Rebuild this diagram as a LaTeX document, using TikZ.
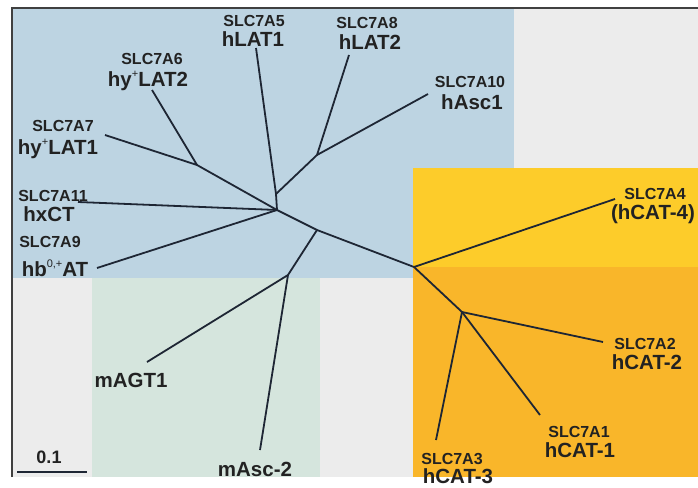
\documentclass[tikz,border=0pt]{standalone}
\usepackage{fontspec}
\setmainfont{Liberation Sans}
\definecolor{panelgrey}{RGB}{236,236,236}
\definecolor{lightblue}{RGB}{189,212,226}
\definecolor{mintgreen}{RGB}{213,229,221}
\definecolor{catyellow}{RGB}{253,204,42}
\definecolor{catorange}{RGB}{249,182,42}
\definecolor{treeline}{RGB}{30,38,52}
\definecolor{labeltext}{RGB}{34,34,34}
\newcommand{\upmark}[1]{\raisebox{0.42em}{\fontsize{11}{11}\selectfont\mdseries #1}}

\begin{document}
\begin{tikzpicture}[x=1pt,y=-1pt,
    branch/.style={line width=1.8pt,draw=treeline,line join=round},
    slc/.style={font=\fontsize{16}{16}\selectfont\bfseries,text=labeltext,inner sep=0pt,anchor=base},
    gene/.style={font=\fontsize{20.5}{20.5}\selectfont\bfseries,text=labeltext,inner sep=0pt,anchor=base}]
\useasboundingbox (0,0) rectangle (698,487);
% coloured panels
\fill[white] (0,0) rectangle (698,487);
\fill[panelgrey] (12,8) rectangle (698,477);
\fill[lightblue] (12,8) rectangle (514,168);
\fill[lightblue] (12,168) rectangle (413,278);
\fill[catyellow] (413,168) rectangle (698,267);
\fill[catorange] (413,267) rectangle (698,477);
\fill[mintgreen] (92,278) rectangle (320,477);
\draw[line width=1.4pt,draw=black!75] (12,477) -- (12,8) -- (698,8);

% inner nodes of the tree
\coordinate (c) at (277,210);
\coordinate (n1) at (276,194);
\coordinate (n2) at (317,155);
\coordinate (n6) at (197,165);
\coordinate (j2) at (317,230);
\coordinate (g) at (288,275);
\coordinate (y) at (414,267);
\coordinate (o) at (462,312);
% leaf tips
\coordinate (t5) at (256,48);
\coordinate (t8) at (349,55);
\coordinate (t10) at (428,94);
\coordinate (t6) at (152,90);
\coordinate (t7) at (105,135);
\coordinate (t11) at (78,202);
\coordinate (t9) at (97,268);
\coordinate (tagt) at (147,362);
\coordinate (tasc) at (260,450);
\coordinate (t4) at (615,199);
\coordinate (t2) at (603,342);
\coordinate (t1) at (540,415);
\coordinate (t3) at (436,440);

% branches
\draw[branch] (t5) -- (n1) -- (c);
\draw[branch] (n1) -- (n2) -- (t8);
\draw[branch] (n2) -- (t10);
\draw[branch] (t7) -- (n6) -- (c);
\draw[branch] (n6) -- (t6);
\draw[branch] (t11) -- (c);
\draw[branch] (t9) -- (c);
\draw[branch] (c) -- (j2) -- (y);
\draw[branch] (j2) -- (g) -- (tagt);
\draw[branch] (g) -- (tasc);
\draw[branch] (y) -- (t4);
\draw[branch] (y) -- (o) -- (t2);
\draw[branch] (o) -- (t1);
\draw[branch] (o) -- (t3);

% labels
\node[slc] (s5) at (254,27) {SLC7A5};
\node[gene] (hlat1) at (253,47) {hLAT1};
\node[slc] (s8) at (367,29) {SLC7A8};
\node[gene] (hlat2) at (370,50) {hLAT2};
\node[slc] (s10) at (470,87) {SLC7A10};
\node[gene] (hasc1) at (472,109) {hAsc1};
\node[slc] (s6) at (152,64) {SLC7A6};
\node[gene] (hylat2) at (148,86) {hy\upmark{+}LAT2};
\node[slc] (s7) at (63,131) {SLC7A7};
\node[gene] (hylat1) at (58,154) {hy\upmark{+}LAT1};
\node[slc] (s11) at (53,201) {SLC7A11};
\node[gene] (hxct) at (49,221) {hxCT};
\node[slc] (s9) at (50,247) {SLC7A9};
\node[gene] (hbat) at (55,276) {hb\upmark{0,+}AT};
\node[gene] (magt1) at (131,387) {mAGT1};
\node[gene] (masc2) at (255,476) {mAsc-2};
\node[slc] (s4) at (655,199) {SLC7A4};
\node[gene] (hcat4) at (653,219) {(hCAT-4)};
\node[slc] (s2) at (645,349) {SLC7A2};
\node[gene] (hcat2) at (647,369) {hCAT-2};
\node[slc] (s1) at (579,437) {SLC7A1};
\node[gene] (hcat1) at (580,457) {hCAT-1};
\node[slc] (s3) at (452,464) {SLC7A3};
\node[gene] (hcat3) at (458,483) {hCAT-3};

% scale bar
\coordinate (sbl) at (17,472);
\coordinate (sbr) at (87,472);
\draw[line width=1.8pt,draw=treeline] (sbl) -- (sbr);
\node[gene,font=\fontsize{18}{18}\selectfont\bfseries] (scale) at (49,463) {0.1};
\end{tikzpicture}
\end{document}
